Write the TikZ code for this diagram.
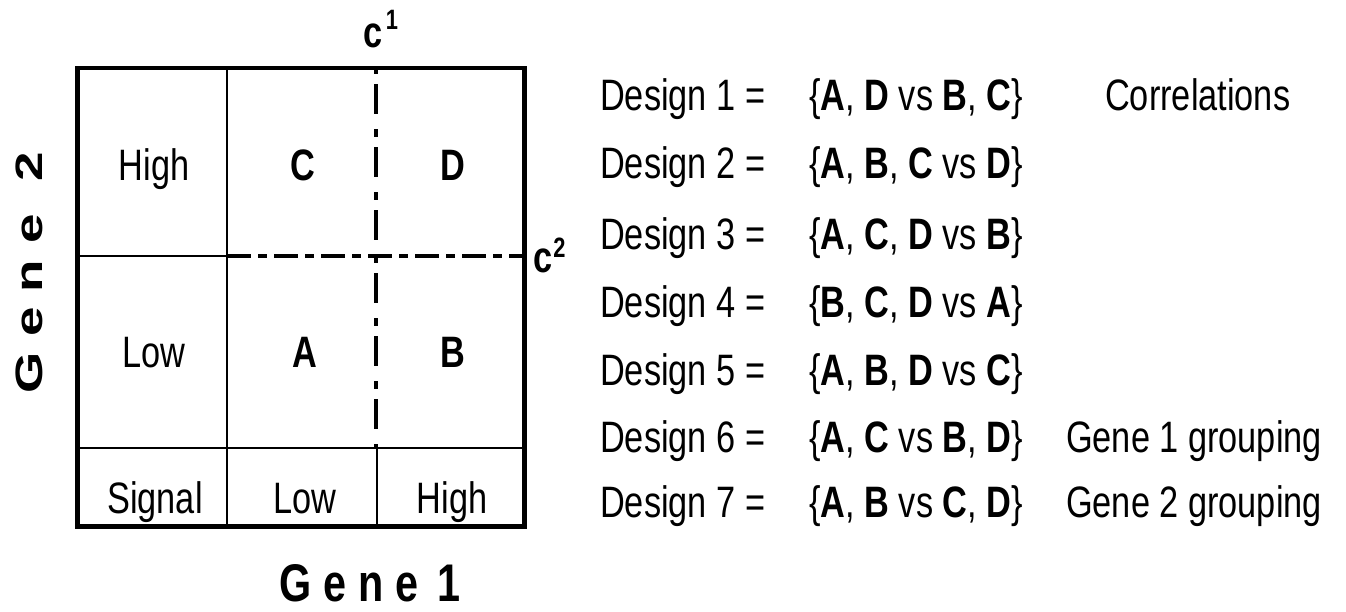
\documentclass[tikz,border=0pt]{standalone}
\usepackage{fontspec}
\setmainfont[FakeStretch=0.78]{Liberation Sans}
\newfontfamily\geneonefont[FakeStretch=0.78]{Liberation Sans Bold}
\newfontfamily\genetwofont{Liberation Sans Bold}
\begin{document}
\begin{tikzpicture}[x=1pt,y=-1pt,
  txt/.style={inner sep=0pt, anchor=base west, font=\fontsize{44}{44}\selectfont},
  celltxt/.style={inner sep=0pt, anchor=base, font=\fontsize{44}{44}\selectfont},
  thinline/.style={line width=2pt},
  thickline/.style={line width=4.5pt},
  dashv/.style={line width=4.2pt, dash pattern=on 30pt off 15pt on 8pt off 10pt, dash phase=47pt},
  dashh/.style={line width=4.2pt, dash pattern=on 24pt off 7pt on 9pt off 7pt}]
\useasboundingbox (0,0) rectangle (1346,611);
\fill[white] (0,0) rectangle (1346,611);
% grid
\draw[thinline] (227,68) -- (227,527);
\draw[thinline] (77,256) -- (227,256);
\draw[thinline] (77,448) -- (525,448);
\draw[thinline] (377,448) -- (377,527);
\draw[dashv] (376,68) -- (376,448);
\draw[dashh] (227,256) -- (525,256);
\draw[thickline] (77.5,68) rectangle (524.5,526.5);
% cell labels
\node[celltxt] (high2) at (154,180) {High};
\node[celltxt] (cC) at (303,180) {\bfseries C};
\node[celltxt] (cD) at (453,180) {\bfseries D};
\node[celltxt] (low2) at (154,367) {Low};
\node[celltxt] (cA) at (305,367) {\bfseries A};
\node[celltxt] (cB) at (453,367) {\bfseries B};
\node[celltxt] (sig) at (155,513) {Signal};
\node[celltxt] (low1) at (305,513) {Low};
\node[celltxt] (high1) at (452,513) {High};
% cut labels
\node[txt] (c1) at (363.5,47) {\bfseries c\kern3pt\raisebox{18pt}{\fontsize{28}{28}\selectfont 1}};
\node[txt] (c2) at (533.5,272) {\bfseries c\kern0.5pt\raisebox{15pt}{\fontsize{28}{28}\selectfont 2}};
% axis labels
\node[inner sep=0pt, anchor=base west] (g1) at (279,601)
  {\fontsize{53}{53}\geneonefont G\kern12pt e\kern12pt n\kern12pt e\kern7pt{} 1};
\node[inner sep=0pt, anchor=base west, rotate=90] (g2) at (42,394)
  {\scalebox{1}[0.72]{\fontsize{53}{53}\genetwofont G\kern16pt e\kern15pt n\kern16pt e\kern18pt{} 2}};
% designs
\node[txt] (d1) at (600,110) {Design 1 =};
\node[txt] (s1) at (809,110) {\{\textbf{A}, \textbf{D} vs \textbf{B}, \textbf{C}\}};
\node[txt] (d2) at (600,178) {Design 2 =};
\node[txt] (s2) at (809,178) {\{\textbf{A}, \textbf{B}, \textbf{C} vs \textbf{D}\}};
\node[txt] (d3) at (600,249) {Design 3 =};
\node[txt] (s3) at (809,249) {\{\textbf{A}, \textbf{C}, \textbf{D} vs \textbf{B}\}};
\node[txt] (d4) at (600,317) {Design 4 =};
\node[txt] (s4) at (809,317) {\{\textbf{B}, \textbf{C}, \textbf{D} vs \textbf{A}\}};
\node[txt] (d5) at (600,385) {Design 5 =};
\node[txt] (s5) at (809,385) {\{\textbf{A}, \textbf{B}, \textbf{D} vs \textbf{C}\}};
\node[txt] (d6) at (600,452) {Design 6 =};
\node[txt] (s6) at (809,452) {\{\textbf{A}, \textbf{C} vs \textbf{B}, \textbf{D}\}};
\node[txt] (d7) at (600,517) {Design 7 =};
\node[txt] (s7) at (809,517) {\{\textbf{A}, \textbf{B} vs \textbf{C}, \textbf{D}\}};
\node[txt] (corr) at (1105,110) {Correlations};
\node[txt] (gg1) at (1066,452) {Gene 1 grouping};
\node[txt] (gg2) at (1066,517) {Gene 2 grouping};
\end{tikzpicture}
\end{document}
